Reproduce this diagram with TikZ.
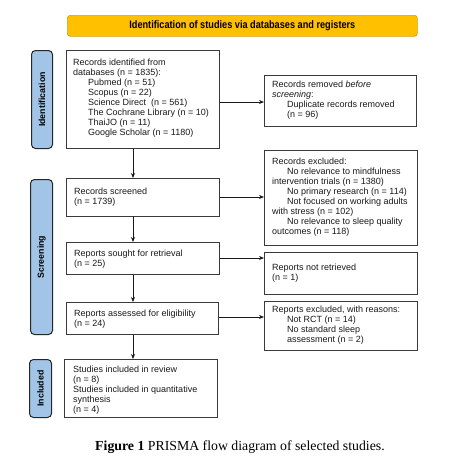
\documentclass[tikz,border=0pt]{standalone}
\usepackage{fontspec}
\setmainfont{Liberation Sans}
\newfontfamily\capfont{Liberation Serif}
\newfontfamily\bannerfont[FakeStretch=0.85]{Liberation Sans}
\usetikzlibrary{arrows.meta}
\definecolor{banner}{HTML}{FFC000}
\definecolor{bannerline}{HTML}{D4A017}
\definecolor{tab}{HTML}{A2C4E6}
\definecolor{boxline}{HTML}{3A3A3A}
\tikzset{
  flowbox/.style={draw=boxline, line width=0.9pt, fill=white, rectangle, inner sep=0pt, anchor=north west},
  tabbox/.style={draw=black!85, line width=1pt, fill=tab, rounded corners=4pt, inner sep=0pt, anchor=north west},
  txt/.style={anchor=north west, inner sep=0pt, align=left, font=\fontsize{9}{10}\selectfont, text=black!90},
  tablabel/.style={rotate=90, font=\fontsize{8.8}{9}\selectfont\bfseries, inner sep=0pt},
  flowarrow/.style={draw=black!90, line width=0.8pt, -{Stealth[length=5pt,width=4pt]}}
}
\newcommand{\ind}{\hspace*{15pt}}
\begin{document}
\begin{tikzpicture}[x=1pt,y=-1pt]
\useasboundingbox[fill=white] (0,0) rectangle (454,461);
% banner
\node[draw=bannerline, line width=0.7pt, fill=banner, rounded corners=3pt, minimum width=350pt, minimum height=21pt, anchor=north west, inner sep=0pt] (banner) at (67,15) {};
\node[font=\bannerfont\bfseries\fontsize{10.8}{12}\selectfont, inner sep=0pt] (bannertxt) at (banner.center) {Identification of studies via databases and registers};
% side tabs
\node[tabbox, minimum width=21pt, minimum height=98pt] (tabid) at (31,50) {};
\node[tablabel] (tabidl) at (tabid.center) {Identification};
\node[tabbox, minimum width=22pt, minimum height=155pt] (tabsc) at (30,179) {};
\node[tablabel] (tabscl) at (tabsc.center) {Screening};
\node[tabbox, minimum width=22pt, minimum height=58pt] (tabin) at (29,359) {};
\node[tablabel] (tabinl) at (tabin.center) {Included};
% left column boxes
\node[flowbox, minimum width=153pt, minimum height=98pt] (b1) at (66,50) {};
\node[txt] (b1t) at (73,59) {Records identified from\\databases (n = 1835):\\
\ind Pubmed (n = 51)\\\ind Scopus (n = 22)\\\ind Science Direct\ \ (n = 561)\\
\ind The Cochrane Library (n = 10)\\\ind ThaiJO (n = 11)\\\ind Google Scholar (n = 1180)};
\node[flowbox, minimum width=153pt, minimum height=38pt] (b2) at (66,178) {};
\node[txt] (b2t) at (74,188) {Records screened\\(n = 1739)};
\node[flowbox, minimum width=153pt, minimum height=32pt] (b3) at (66,242) {};
\node[txt] (b3t) at (74,250) {Reports sought for retrieval\\(n = 25)};
\node[flowbox, minimum width=152pt, minimum height=32pt] (b4) at (66,302) {};
\node[txt] (b4t) at (74,310) {Reports assessed for eligibility\\(n = 24)};
\node[flowbox, minimum width=153pt, minimum height=58pt] (b5) at (64,359) {};
\node[txt] (b5t) at (73,366) {Studies included in review\\(n = 8)\\Studies included in quantitative\\synthesis\\(n = 4)};
% right column boxes
\node[flowbox, minimum width=152pt, minimum height=51pt] (r1) at (264,75) {};
\node[txt] (r1t) at (272,81) {Records removed \textit{before}\\\textit{screening}:\\\ind Duplicate records removed\\\ind(n = 96)};
\node[flowbox, minimum width=153pt, minimum height=95pt] (r2) at (264,150) {};
\node[txt] (r2t) at (272,158) {Records excluded:\\\ind No relevance to mindfulness\\intervention trials (n = 1380)\\
\ind No primary research (n = 114)\\\ind Not focused on working adults\\with stress (n = 102)\\\ind No relevance to sleep quality\\outcomes (n = 118)};
\node[flowbox, minimum width=153pt, minimum height=42pt] (r3) at (264,252) {};
\node[txt] (r3t) at (272,264) {Reports not retrieved\\(n = 1)};
\node[flowbox, minimum width=153pt, minimum height=49pt] (r4) at (264,301) {};
\node[txt] (r4t) at (272,306) {Reports excluded, with reasons:\\\ind Not RCT (n = 14)\\\ind No standard sleep\\\ind assessment (n = 2)};
% arrows
\coordinate (a1) at (133,148);
\draw[flowarrow] (b1.south -| a1) -- (b2.north -| a1);
\draw[flowarrow] (b2.south -| a1) -- (b3.north -| a1);
\draw[flowarrow] (b3.south -| a1) -- (b4.north -| a1);
\draw[flowarrow] (b4.south -| a1) -- (b5.north -| a1);
\coordinate (h1) at (0,102);
\coordinate (h2) at (0,197);
\coordinate (h3) at (0,258);
\coordinate (h4) at (0,317);
\draw[flowarrow] (b1.east |- h1) -- (r1.west |- h1);
\draw[flowarrow] (b2.east |- h2) -- (r2.west |- h2);
\draw[flowarrow] (b3.east |- h3) -- (r3.west |- h3);
\draw[flowarrow] (b4.east |- h4) -- (r4.west |- h4);
% caption
\node[font=\capfont\fontsize{13.8}{15}\selectfont, inner sep=0pt] (cap) at (240,447) {\textbf{Figure 1} PRISMA flow diagram of selected studies.};
\end{tikzpicture}
\end{document}
